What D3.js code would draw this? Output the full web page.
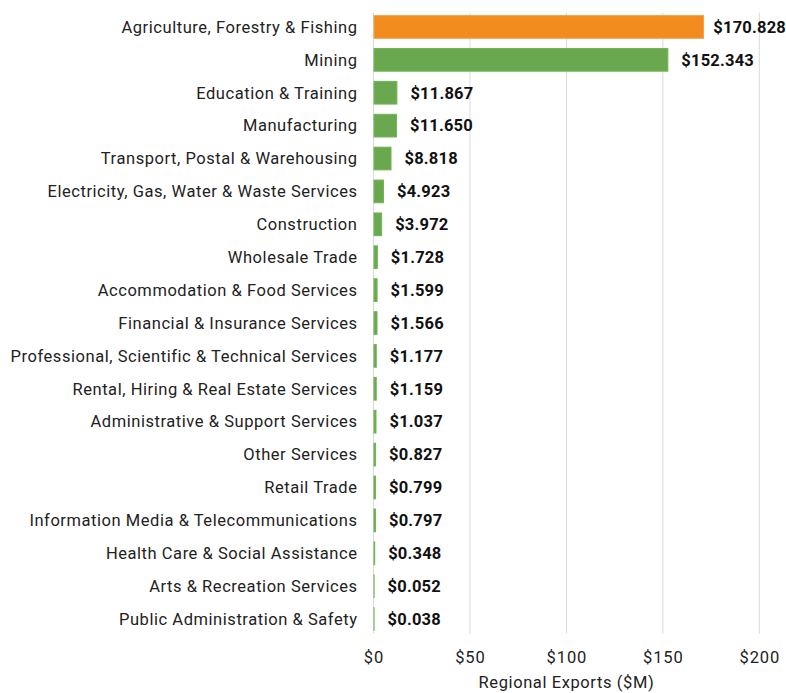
<!DOCTYPE html>
<html>
<head>
<meta charset="utf-8">
<script src="https://cdn.jsdelivr.net/npm/d3@7"></script>
<style>
  body { margin: 0; background: #fff; }
  svg text { font-family: Roboto, "Noto Sans", sans-serif; }
</style>
</head>
<body>
<div id="chart"></div>
<script>
// Industries, top to bottom
var industries = [
  'Agriculture, Forestry & Fishing',
  'Mining',
  'Education & Training',
  'Manufacturing',
  'Transport, Postal & Warehousing',
  'Electricity, Gas, Water & Waste Services',
  'Construction',
  'Wholesale Trade',
  'Accommodation & Food Services',
  'Financial & Insurance Services',
  'Professional, Scientific & Technical Services',
  'Rental, Hiring & Real Estate Services',
  'Administrative & Support Services',
  'Other Services',
  'Retail Trade',
  'Information Media & Telecommunications',
  'Health Care & Social Assistance',
  'Arts & Recreation Services',
  'Public Administration & Safety'
];

// Regional exports, $M
var exportsM = [170.828, 152.343, 11.867, 11.650, 8.818, 4.923, 3.972, 1.728, 1.599,
  1.566, 1.177, 1.159, 1.037, 0.827, 0.799, 0.797, 0.348, 0.052, 0.038];

var xTicks = [0, 50, 100, 150, 200];
var highlight = 'Agriculture, Forestry & Fishing';

var width = 786, height = 693;
var margins = {left: 373.5, right: 26.7, top: 10.5, bottom: 57.5};

var svg = d3.select('#chart').append('svg')
  .attr('width', width)
  .attr('height', height);

var x = d3.scaleLinear()
  .domain([0, 200])
  .range([margins.left, width - margins.right]);

var y = d3.scaleBand()
  .domain(industries)
  .range([margins.top, height - margins.bottom])
  .paddingInner(0.31)
  .paddingOuter(0.155);

// gridlines
svg.append('g').selectAll('line')
  .data(xTicks)
  .enter().append('line')
  .attr('x1', function(d) { return x(d); })
  .attr('x2', function(d) { return x(d); })
  .attr('y1', margins.top + 2)
  .attr('y2', height - margins.bottom - 2)
  .attr('stroke', '#d9d9d9')
  .attr('stroke-width', 1);

var rows = industries.map(function(name, i) { return {name: name, value: exportsM[i]}; });

// bars (thin outline keeps the tiny ones visible)
svg.append('g').selectAll('rect')
  .data(rows)
  .enter().append('rect')
  .attr('x', x(0) + 0.5)
  .attr('y', function(d) { return y(d.name); })
  .attr('width', function(d) { return x(d.value) - x(0); })
  .attr('height', y.bandwidth())
  .attr('fill', function(d) { return d.name === highlight ? '#F28C1F' : '#6AA84F'; })
  .attr('stroke', function(d) { return d.name === highlight ? '#F5A04A' : '#72B556'; })
  .attr('stroke-width', 1);

// value labels, kept inside the picture on the right
svg.append('g').selectAll('text')
  .data(rows)
  .enter().append('text')
  .attr('y', function(d) { return y(d.name) + y.bandwidth() / 2; })
  .attr('dy', '0.35em')
  .attr('font-size', 16.5)
  .attr('font-weight', 'bold')
  .attr('letter-spacing', 0.2)
  .attr('fill', '#111')
  .text(function(d) { return '$' + d3.format('.3f')(d.value); })
  .attr('x', function(d) {
    var w = this.getComputedTextLength();
    return Math.min(x(d.value) + 14, width - w);
  });

// category labels
svg.append('g').selectAll('text')
  .data(industries)
  .enter().append('text')
  .attr('x', margins.left - 16)
  .attr('y', function(d) { return y(d) + y.bandwidth() / 2; })
  .attr('dy', '0.35em')
  .attr('text-anchor', 'end')
  .attr('font-size', 16.5)
  .attr('letter-spacing', 0.55)
  .attr('fill', '#222')
  .text(function(d) { return d; });

// x axis tick labels
var axis = d3.axisBottom(x)
  .tickValues(xTicks)
  .tickSize(0)
  .tickPadding(0)
  .tickFormat(function(d) { return '$' + d; });

var gAxis = svg.append('g')
  .attr('transform', 'translate(0,' + (height - margins.bottom) + ')')
  .call(axis);
gAxis.select('.domain').remove();
gAxis.selectAll('text')
  .attr('y', 22)
  .attr('dy', '0.35em')
  .attr('font-size', 16.5)
  .attr('letter-spacing', 0.9)
  .attr('fill', '#222')
  .style('font-family', 'Roboto, "Noto Sans", sans-serif');

svg.append('text')
  .attr('x', (x(0) + x(200)) / 2)
  .attr('y', 688)
  .attr('text-anchor', 'middle')
  .attr('font-size', 16.5)
  .attr('letter-spacing', 0.6)
  .attr('fill', '#222')
  .text('Regional Exports ($M)');
</script>
</body>
</html>
